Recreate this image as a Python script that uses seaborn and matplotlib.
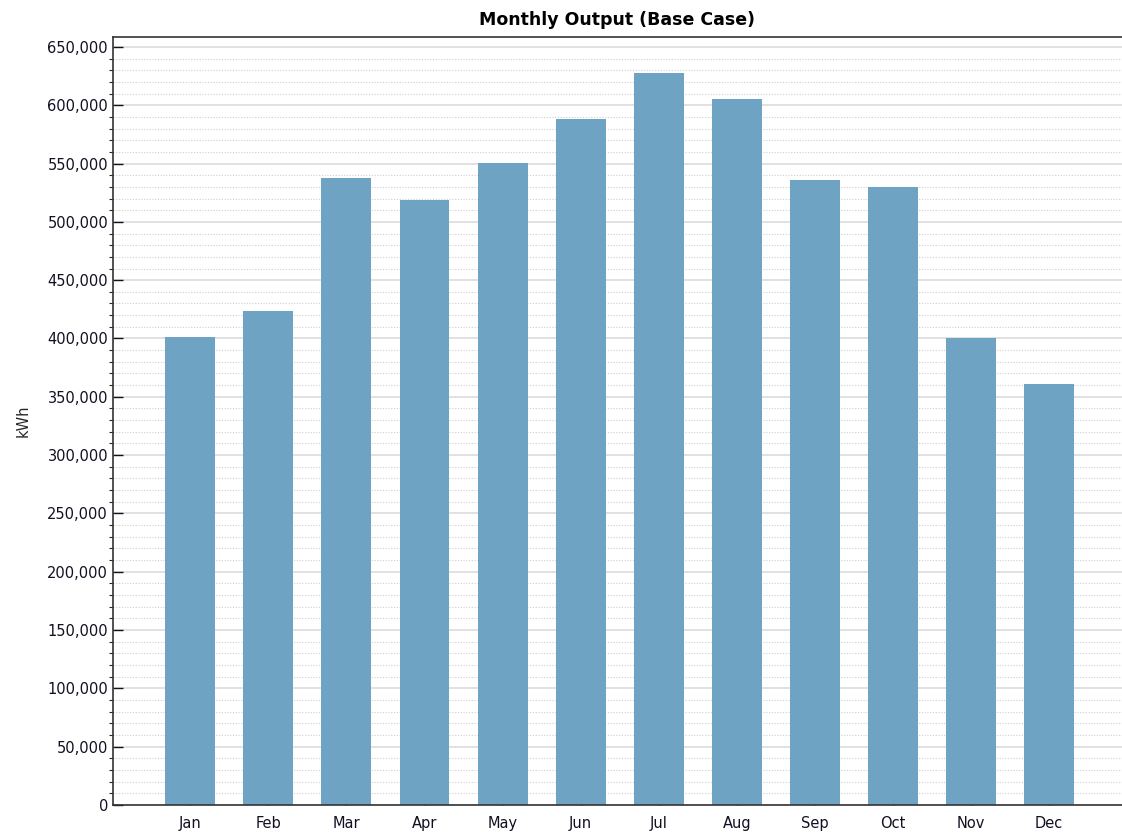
import matplotlib
matplotlib.use("Agg")
import matplotlib.pyplot as plt
import matplotlib.ticker as mticker
import seaborn as sns
import pandas as pd

# monthly output values
months = ["Jan", "Feb", "Mar", "Apr", "May", "Jun",
          "Jul", "Aug", "Sep", "Oct", "Nov", "Dec"]
output_kwh = [401300, 423600, 537700, 518800, 550500, 588300,
              627700, 605400, 536000, 530000, 400500, 361000]

df = pd.DataFrame({"Month": months, "kWh": output_kwh})

sns.set_style("white")
plt.rcParams["font.family"] = ["DejaVu Sans"]

fig = plt.figure(figsize=(11.22, 8.32), dpi=100)
ax = fig.add_axes([0.1007, 0.0325, 0.899, 0.923])

sns.barplot(data=df, x="Month", y="kWh", color="#6fa3c4", saturation=1,
            width=0.64, linewidth=0, ax=ax)

ax.set_xlim(-0.99, 11.93)
ax.set_ylim(0, 658500)
ax.yaxis.set_major_locator(mticker.MultipleLocator(50000))
ax.yaxis.set_minor_locator(mticker.MultipleLocator(10000))
ax.yaxis.set_major_formatter(mticker.StrMethodFormatter("{x:,.0f}"))

ax.grid(axis="y", which="major", color="#dcdcdc", linewidth=1.2)
ax.grid(axis="y", which="minor", color="#cfcfcf", linewidth=0.8, linestyle=(0, (1, 1.5)))
ax.set_axisbelow(True)

ax.tick_params(axis="y", which="major", direction="in", length=7, width=1,
               labelsize=10.5, colors="#111122")
ax.tick_params(axis="y", which="minor", direction="out", length=3, width=0.8)
ax.tick_params(axis="x", direction="in", length=6, width=1, labelsize=10.5,
               colors="#111122", pad=8)
ax.tick_params(left=True, bottom=True, which="both")

for side in ["left", "bottom", "top"]:
    ax.spines[side].set_color("#333333")
    ax.spines[side].set_linewidth(1.2)
ax.spines["right"].set_visible(False)

ax.set_xlabel("")
ax.set_ylabel("kWh", fontsize=10.5, labelpad=12)
ax.set_title("Monthly Output (Base Case)", fontsize=12.5, fontweight="bold",
             color="black", pad=9)

fig.savefig("out.png", dpi=100)
